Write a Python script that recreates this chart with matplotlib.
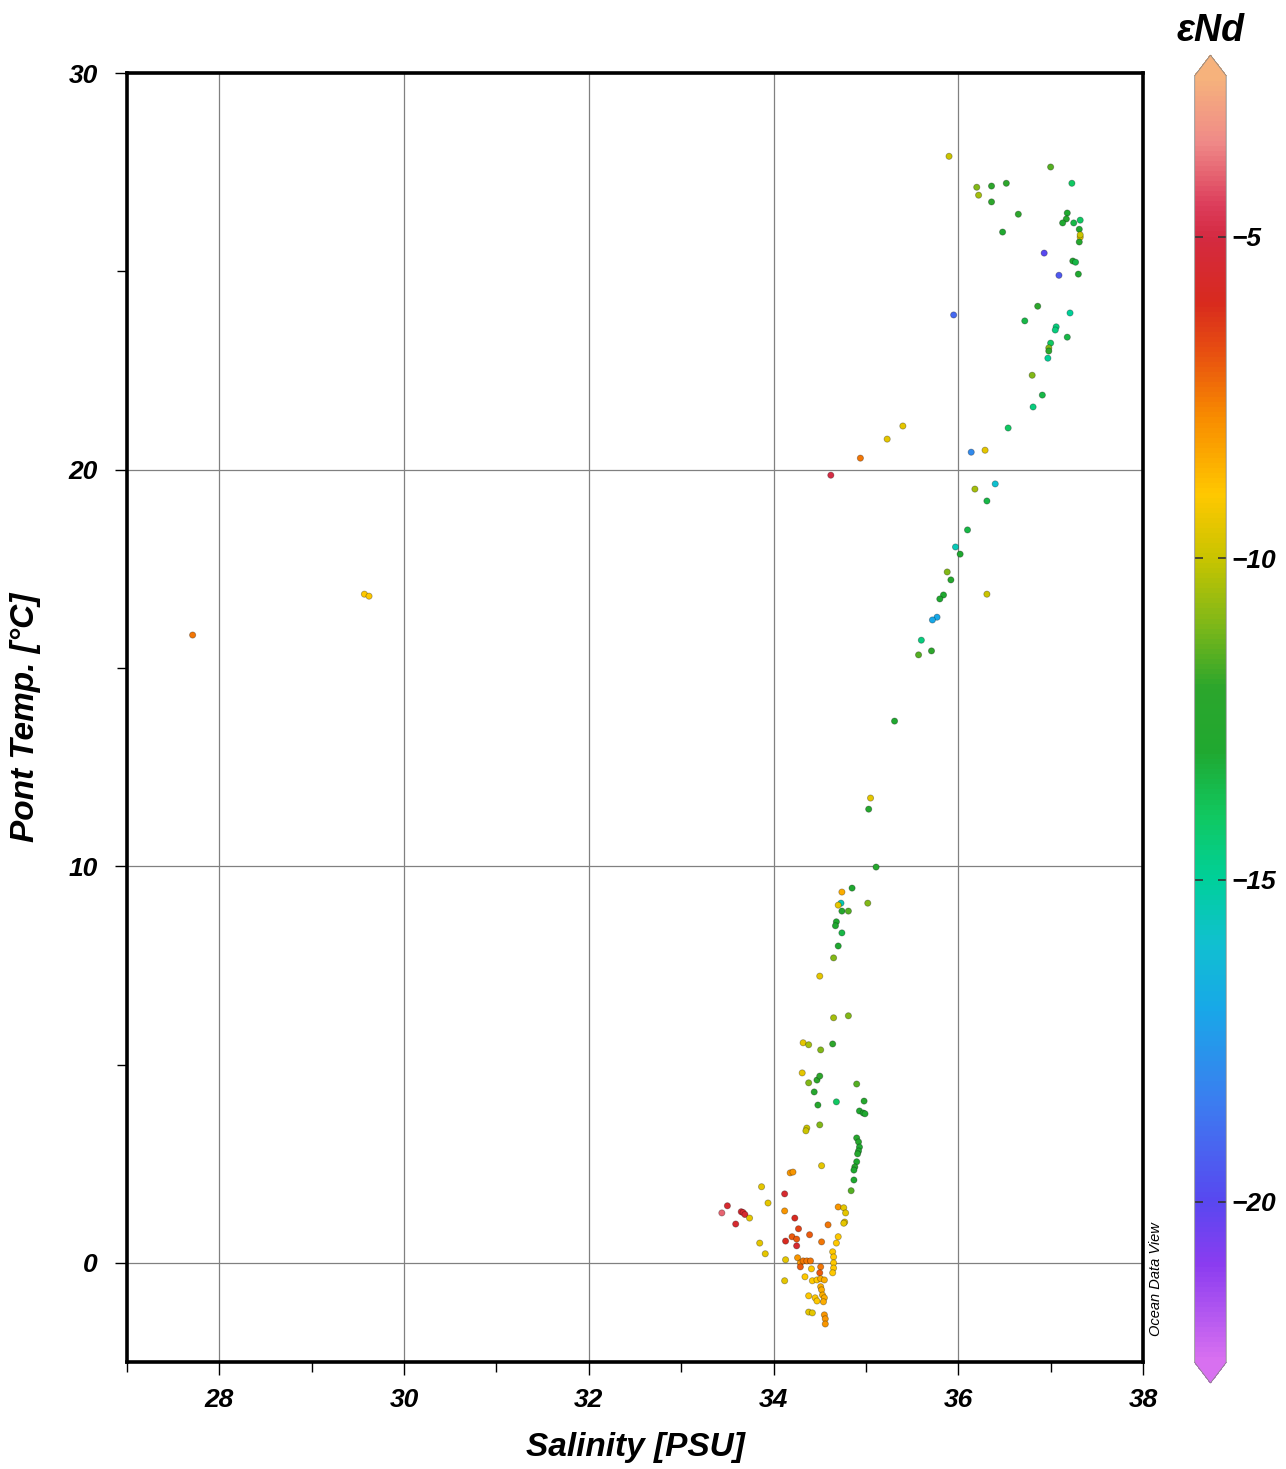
import matplotlib.pyplot as plt
import numpy as np
from matplotlib.colors import LinearSegmentedColormap, Normalize

# --- data ---
salinity = [
    27.71, 29.57, 29.62,
    35.90, 37.00, 37.23, 36.20, 36.36, 36.52, 36.22, 36.36, 36.65, 36.48,
    37.18, 37.17, 37.13, 37.25, 37.32, 37.31, 37.32, 37.31, 37.32,
    36.93, 37.24, 37.27, 37.09, 37.30, 35.95, 36.86, 37.21, 36.72,
    37.06, 37.05, 37.18, 37.00, 36.98, 36.98, 36.97, 36.80,
    36.91, 36.81, 36.54, 35.40, 35.23, 34.94, 34.62, 36.14, 36.29,
    36.40, 36.18, 36.31, 36.10, 35.97, 36.02, 35.88, 35.92, 36.31,
    35.84, 35.80, 35.77, 35.72, 35.60, 35.71, 35.57,
    35.31, 35.05, 35.03, 35.11,
    34.85, 34.74, 35.02, 34.73, 34.70, 34.74, 34.81, 34.68, 34.67,
    34.74, 34.70, 34.65, 34.50, 34.65, 34.81, 34.32, 34.38, 34.64, 34.51,
    34.31, 34.38, 34.47, 34.50, 34.90, 34.44, 34.48, 34.68, 34.98,
    34.93, 34.97, 34.99, 34.36, 34.35, 34.50,
    34.90, 34.92, 34.93, 34.92, 34.91, 34.90, 34.88, 34.87,
    34.87, 34.84, 34.52, 34.18, 34.21, 33.87, 33.94, 34.12,
    33.50, 33.44, 33.65, 33.67, 33.69, 33.74, 33.59,
    34.12, 34.23, 34.27, 34.13, 34.20, 34.25, 34.25, 34.39, 34.52,
    34.59, 34.70, 34.76, 34.78, 34.77, 34.76, 34.70, 34.68,
    34.64, 34.65, 34.65, 34.65, 34.64,
    33.85, 33.91, 34.13, 34.26, 34.29, 34.32, 34.36, 34.40,
    34.29, 34.41, 34.51, 34.50, 34.34, 34.12,
    34.42, 34.47, 34.51, 34.55, 34.51, 34.52, 34.53, 34.55, 34.54,
    34.38, 34.45, 34.47, 34.38, 34.42, 34.55, 34.56, 34.56,
]
pot_temp = [
    15.83, 16.86, 16.81,
    27.90, 27.63, 27.22, 27.12, 27.15, 27.22, 26.92, 26.75, 26.44, 25.99,
    26.47, 26.32, 26.22, 26.22, 26.29, 26.06, 25.86, 25.74, 25.92,
    25.46, 25.26, 25.23, 24.90, 24.93, 23.90, 24.12, 23.95, 23.75,
    23.60, 23.52, 23.34, 23.19, 23.07, 22.99, 22.81, 22.38,
    21.88, 21.58, 21.05, 21.10, 20.77, 20.29, 19.86, 20.44, 20.49,
    19.64, 19.51, 19.21, 18.48, 18.05, 17.87, 17.42, 17.22, 16.86,
    16.84, 16.74, 16.28, 16.21, 15.70, 15.43, 15.33,
    13.66, 11.72, 11.44, 9.98,
    9.45, 9.35, 9.07, 9.07, 9.02, 8.87, 8.87, 8.60, 8.50,
    8.32, 7.99, 7.69, 7.23, 6.18, 6.23, 5.55, 5.50, 5.52, 5.37,
    4.79, 4.54, 4.61, 4.71, 4.51, 4.31, 3.98, 4.06, 4.08,
    3.83, 3.78, 3.76, 3.40, 3.33, 3.48,
    3.15, 3.05, 2.92, 2.82, 2.75, 2.55, 2.42, 2.34,
    2.09, 1.82, 2.45, 2.27, 2.29, 1.92, 1.51, 1.74,
    1.44, 1.26, 1.29, 1.27, 1.22, 1.13, 0.98,
    1.31, 1.13, 0.86, 0.55, 0.66, 0.60, 0.43, 0.71, 0.53,
    0.96, 1.41, 1.39, 1.26, 1.03, 1.00, 0.66, 0.50,
    0.28, 0.15, 0.00, -0.13, -0.25,
    0.50, 0.23, 0.08, 0.13, 0.00, 0.05, 0.05, 0.05,
    -0.10, -0.15, -0.10, -0.25, -0.35, -0.45,
    -0.45, -0.43, -0.40, -0.43, -0.60, -0.68, -0.81, -0.88, -0.98,
    -0.83, -0.88, -0.96, -1.24, -1.26, -1.31, -1.41, -1.54,
]
eps_nd = [
    -7.5, -9.0, -9.0,
    -10.0, -11.5, -14.0, -11.0, -12.0, -12.0, -10.5, -12.0, -12.0, -13.0,
    -13.0, -12.5, -13.0, -13.5, -14.0, -13.0, -9.5, -12.5, -10.0,
    -20.0, -13.0, -13.5, -19.5, -13.0, -19.0, -12.0, -15.0, -13.5,
    -14.5, -14.5, -13.5, -14.0, -11.0, -12.0, -15.0, -11.0,
    -13.5, -14.5, -14.0, -9.5, -9.5, -7.5, -5.0, -18.0, -9.5,
    -16.0, -10.5, -13.5, -13.5, -15.5, -13.0, -11.0, -12.5, -10.0,
    -13.0, -13.0, -17.0, -17.0, -14.5, -12.0, -11.5,
    -13.0, -9.5, -12.5, -12.5,
    -13.0, -8.5, -11.0, -15.5, -9.5, -12.5, -11.5, -13.0, -13.0,
    -13.5, -13.0, -11.0, -9.5, -10.5, -11.0, -9.5, -10.5, -12.0, -11.0,
    -9.5, -11.0, -12.0, -12.0, -11.5, -12.5, -12.5, -14.0, -12.5,
    -13.0, -13.0, -13.0, -10.0, -10.0, -11.0,
    -12.5, -12.5, -13.0, -13.0, -12.5, -13.0, -12.5, -13.0,
    -13.0, -11.5, -9.5, -8.0, -8.0, -9.5, -9.5, -5.5,
    -5.5, -4.0, -5.5, -5.5, -5.5, -9.5, -5.5,
    -8.0, -6.0, -6.5, -6.0, -7.0, -7.0, -5.5, -7.0, -7.5,
    -7.5, -8.0, -9.5, -9.5, -9.5, -9.5, -9.0, -9.0,
    -9.0, -9.0, -9.0, -9.0, -9.0,
    -9.5, -9.5, -9.5, -8.0, -8.0, -7.5, -7.5, -7.5,
    -7.0, -9.0, -7.5, -7.0, -9.0, -9.5,
    -9.0, -9.0, -8.5, -8.5, -8.5, -8.5, -8.5, -8.5, -8.5,
    -9.0, -9.0, -9.0, -9.5, -9.5, -8.0, -8.0, -8.0,
]

cb_ticks = [-5, -10, -15, -20]
cb_range = (-22.5, -2.5)

# ODV-like palette, from low (violet) to high (peach)
anchor_vals = [-22.5, -21.0, -20.0, -18.5, -17.0, -16.0, -15.0, -14.0, -13.0,
               -12.0, -11.0, -10.0, -9.0, -7.8, -6.8, -6.0, -5.0, -4.5, -3.5, -2.5]
anchor_cols = ['#d870f0', '#8a3cf0', '#5848f0', '#3c7cf0', '#18a8e8', '#10c0d0',
               '#00d09a', '#10c860', '#20a830', '#2ca62c', '#80b818', '#c8c400',
               '#ffc800', '#f88c00', '#e85010', '#d82a1e', '#d42a40', '#dc3c5a',
               '#ef8a88', '#f6b27c']
pos = [(v - cb_range[0]) / (cb_range[1] - cb_range[0]) for v in anchor_vals]
odv = LinearSegmentedColormap.from_list('odv', list(zip(pos, anchor_cols)))
odv.set_over('#f6b27c')
odv.set_under('#d870f0')

plt.rcParams['font.family'] = ['Liberation Sans', 'DejaVu Sans']

fig = plt.figure(figsize=(12.86, 14.69), dpi=100)
ax = fig.add_axes([0.0988, 0.0728, 0.79, 0.8775])

norm = Normalize(vmin=cb_range[0], vmax=cb_range[1])
sc = ax.scatter(salinity, pot_temp, c=eps_nd, cmap=odv, norm=norm, s=20,
                edgecolors='#00000050', linewidths=0.6, zorder=3)

ax.set_xlim(27, 38)
ax.set_ylim(-2.5, 30)
ax.set_xticks([28, 30, 32, 34, 36, 38])
ax.set_xticks([27, 29, 31, 33, 35, 37], minor=True)
ax.set_yticks([0, 10, 20, 30])
ax.set_yticks([5, 15, 25], minor=True)
ax.grid(True, which='major', color='#808080', linewidth=0.9, zorder=1)
for s in ax.spines.values():
    s.set_linewidth(2.6)
ax.tick_params(which='major', direction='out', length=9, width=1, pad=10,
               labelsize=19)
ax.tick_params(axis='y', which='major', pad=12)
ax.tick_params(which='minor', direction='out', length=7, width=1)
for lbl in ax.get_xticklabels() + ax.get_yticklabels():
    lbl.set_fontweight('bold')
    lbl.set_fontstyle('italic')

ax.set_xlabel('Salinity [PSU]', fontsize=24, fontweight='bold', style='italic',
              labelpad=14)
ax.set_ylabel('Pont Temp. [°C]', fontsize=24, fontweight='bold', style='italic',
              labelpad=20)

ax.text(1.013, 0.02, 'Ocean Data View', transform=ax.transAxes, rotation=90,
        fontsize=10.5, style='italic', ha='center', va='bottom')

# colorbar
cax = fig.add_axes([0.929, 0.0585, 0.0245, 0.904])
cbar = fig.colorbar(sc, cax=cax, extend='both', extendfrac=0.016, ticks=cb_ticks)
cbar.outline.set_linewidth(0.6)
cbar.outline.set_edgecolor('#888888')
cax.tick_params(direction='in', length=6, width=1.2, left=True, right=True,
                labelsize=19, color='#333333', pad=4)
for lbl in cax.get_yticklabels():
    lbl.set_fontweight('bold')
    lbl.set_fontstyle('italic')
fig.text(0.941, 0.979, 'εNd', fontsize=27, fontweight='bold', style='italic',
         ha='center', va='center')

fig.savefig('out.png', dpi=100)
